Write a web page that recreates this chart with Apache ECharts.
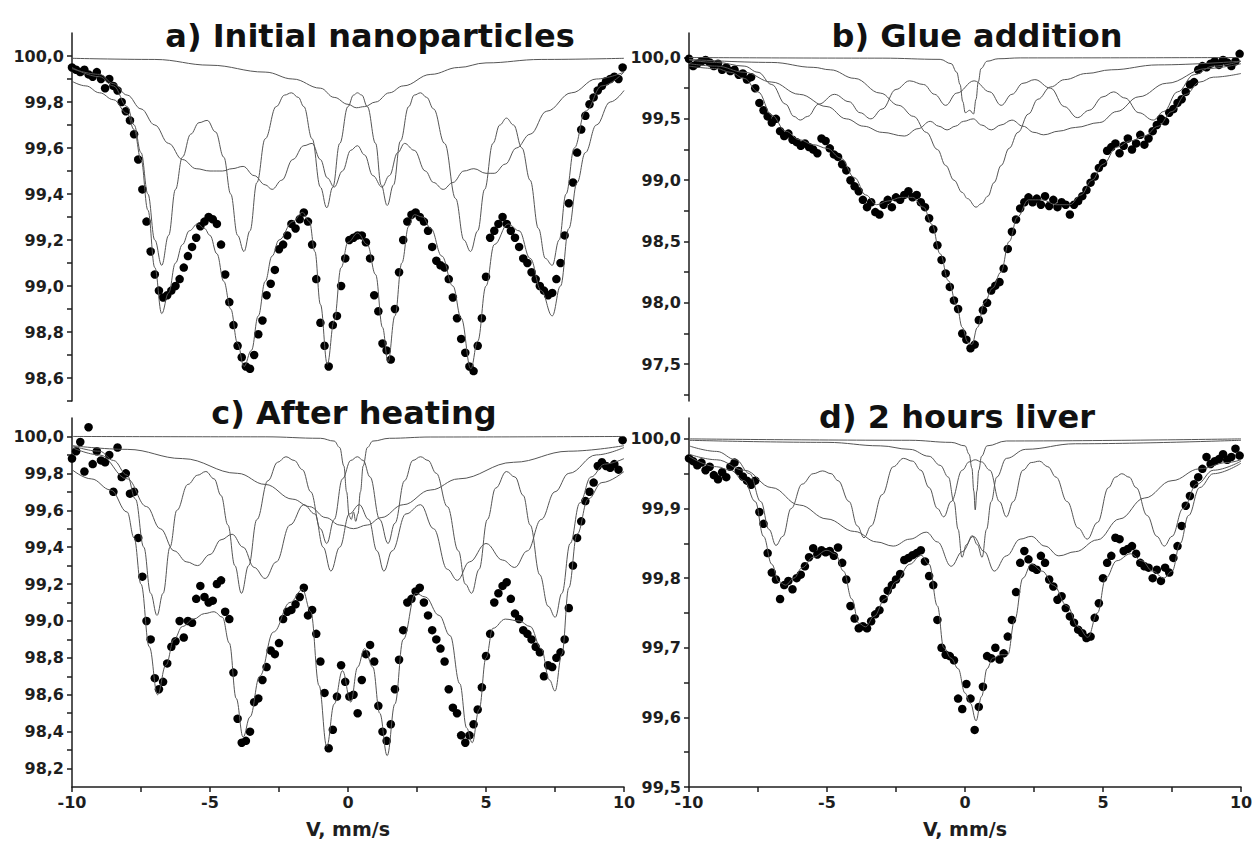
<!DOCTYPE html>
<html>
<head>
<meta charset="utf-8">
<title>Mossbauer spectra</title>
<script src="https://cdn.jsdelivr.net/npm/echarts@6/dist/echarts.min.js"></script>
<style>
html, body { margin: 0; padding: 0; background: #fff; }
#main { width: 1254px; height: 847px; }
</style>
</head>
<body>
<div id="main"></div>
<script>
// velocity of the first channel and channel step, mm/s
var V_START = -10, V_STEP = 0.15;

// measured points, one value per channel
var dotsA = [
    99.95, 99.94, 99.93, 99.94, 99.92, 99.91, 99.93, 99.90, 99.86, 99.90,
    99.87, 99.85, 99.80, 99.76, 99.72, 99.66, 99.55, 99.42, 99.28, 99.15,
    99.05, 98.98, 98.95, 98.96, 98.98, 99.00, 99.03, 99.08, 99.13, 99.17,
    99.21, 99.26, 99.28, 99.30, 99.29, 99.27, 99.18, 99.05, 98.93, 98.83,
    98.74, 98.69, 98.65, 98.64, 98.70, 98.79, 98.85, 98.96, 99.01, 99.07,
    99.16, 99.18, 99.22, 99.27, 99.25, 99.29, 99.32, 99.28, 99.18, 99.03,
    98.84, 98.74, 98.65, 98.83, 98.87, 99.00, 99.12, 99.20, 99.21, 99.22,
    99.22, 99.19, 99.12, 98.96, 98.89, 98.75, 98.72, 98.68, 98.90, 99.06,
    99.20, 99.28, 99.31, 99.32, 99.30, 99.28, 99.24, 99.17, 99.11, 99.09,
    99.08, 99.03, 98.95, 98.86, 98.77, 98.71, 98.65, 98.63, 98.74, 98.86,
    99.04, 99.21, 99.24, 99.27, 99.30, 99.27, 99.24, 99.21, 99.17, 99.12,
    99.10, 99.06, 99.03, 99.00, 98.98, 98.96, 98.97, 99.03, 99.10, 99.22,
    99.36, 99.45, 99.58, 99.68, 99.74, 99.79, 99.82, 99.85, 99.87, 99.89,
    99.90, 99.91, 99.90, 99.95
];
var dotsB = [
    99.99, 99.93, 99.95, 99.97, 99.98, 99.96, 99.93, 99.95, 99.90, 99.92,
    99.89, 99.90, 99.86, 99.87, 99.82, 99.84, 99.75, 99.63, 99.57, 99.52,
    99.47, 99.50, 99.40, 99.36, 99.38, 99.33, 99.31, 99.28, 99.30, 99.27,
    99.25, 99.22, 99.34, 99.32, 99.26, 99.21, 99.19, 99.13, 99.08, 99.00,
    98.95, 98.91, 98.84, 98.78, 98.82, 98.74, 98.72, 98.80, 98.84, 98.78,
    98.86, 98.84, 98.88, 98.91, 98.86, 98.88, 98.82, 98.78, 98.69, 98.60,
    98.47, 98.35, 98.24, 98.13, 98.02, 97.95, 97.75, 97.70, 97.63, 97.66,
    97.86, 97.94, 98.00, 98.10, 98.14, 98.17, 98.28, 98.44, 98.58, 98.68,
    98.77, 98.82, 98.86, 98.82, 98.85, 98.80, 98.87, 98.79, 98.84, 98.78,
    98.82, 98.80, 98.72, 98.80, 98.83, 98.87, 98.92, 98.98, 99.03, 99.10,
    99.14, 99.24, 99.27, 99.30, 99.22, 99.28, 99.34, 99.25, 99.30, 99.37,
    99.29, 99.34, 99.40, 99.45, 99.50, 99.48, 99.55, 99.58, 99.63, 99.66,
    99.72, 99.78, 99.80, 99.90, 99.93, 99.92, 99.95, 99.97, 99.94, 99.98,
    99.96, 99.93, 99.97, 100.03
];
var dotsC = [
    99.88, 99.92, 99.97, 99.81, 100.05, 99.85, 99.92, 99.87, 99.86, 99.90,
    99.70, 99.94, 99.78, 99.80, 99.69, 99.70, 99.45, 99.24, 99.00, 98.90,
    98.69, 98.63, 98.67, 98.77, 98.86, 98.89, 99.00, 98.91, 99.00, 98.99,
    99.12, 99.19, 99.13, 99.10, 99.11, 99.20, 99.22, 99.05, 99.01, 98.72,
    98.47, 98.34, 98.35, 98.40, 98.56, 98.58, 98.68, 98.75, 98.84, 98.82,
    98.88, 99.01, 99.05, 99.06, 99.09, 99.13, 99.18, 99.03, 99.06, 98.93,
    98.78, 98.61, 98.31, 98.41, 98.59, 98.76, 98.67, 98.59, 98.60, 98.50,
    98.68, 98.82, 98.87, 98.78, 98.54, 98.40, 98.35, 98.44, 98.63, 98.79,
    98.95, 99.10, 99.12, 99.16, 99.18, 99.10, 99.03, 98.95, 98.90, 98.85,
    98.78, 98.63, 98.53, 98.50, 98.38, 98.34, 98.38, 98.44, 98.52, 98.64,
    98.81, 98.93, 99.10, 99.15, 99.19, 99.21, 99.12, 99.04, 99.01, 98.95,
    98.93, 98.90, 98.86, 98.83, 98.70, 98.76, 98.75, 98.80, 98.83, 98.90,
    99.07, 99.30, 99.45, 99.54, 99.65, 99.70, 99.75, 99.84, 99.86, 99.84,
    99.83, 99.85, 99.82, 99.98
];
var dotsD = [
    99.972, 99.968, 99.962, 99.966, 99.955, 99.960, 99.948, 99.942, 99.952, 99.945,
    99.960, 99.966, 99.954, 99.946, 99.940, 99.934, 99.940, 99.895, 99.878, 99.836,
    99.808, 99.798, 99.770, 99.790, 99.796, 99.784, 99.800, 99.805, 99.817, 99.830,
    99.843, 99.834, 99.840, 99.837, 99.839, 99.832, 99.844, 99.822, 99.798, 99.760,
    99.742, 99.728, 99.731, 99.728, 99.738, 99.748, 99.754, 99.770, 99.782, 99.790,
    99.798, 99.806, 99.826, 99.829, 99.833, 99.836, 99.840, 99.824, 99.803, 99.790,
    99.740, 99.700, 99.690, 99.688, 99.682, 99.627, 99.612, 99.648, 99.627, 99.582,
    99.615, 99.644, 99.688, 99.685, 99.700, 99.683, 99.692, 99.716, 99.740, 99.780,
    99.822, 99.839, 99.827, 99.815, 99.812, 99.832, 99.822, 99.798, 99.788, 99.769,
    99.774, 99.757, 99.745, 99.736, 99.726, 99.721, 99.714, 99.716, 99.743, 99.764,
    99.800, 99.822, 99.832, 99.858, 99.856, 99.839, 99.842, 99.846, 99.835, 99.822,
    99.817, 99.815, 99.800, 99.812, 99.796, 99.815, 99.808, 99.829, 99.846, 99.875,
    99.904, 99.918, 99.935, 99.945, 99.957, 99.974, 99.964, 99.968, 99.971, 99.978,
    99.970, 99.974, 99.986, 99.976
];

// fitted curves, [velocity, transmission]
var totalA = [[-10,99.89],[-9.5,99.87],[-9,99.84],[-8.5,99.81],[-8,99.75],[-7.75,99.68],[-7.5,99.55],[-7.25,99.33],[-7,99.08],[-6.75,98.88],[-6.5,98.97],[-6.25,99.1],[-6,99.18],[-5.75,99.24],[-5.45,99.27],[-5.2,99.25],[-5,99.22],[-4.75,99.14],[-4.5,99.02],[-4.25,98.9],[-4,98.75],[-3.77,98.65],[-3.5,98.72],[-3.25,98.87],[-3,99.02],[-2.75,99.13],[-2.5,99.2],[-2,99.28],[-1.65,99.32],[-1.4,99.28],[-1.2,99.15],[-1,98.92],[-0.75,98.66],[-0.5,98.85],[-0.25,99.08],[0,99.19],[0.35,99.23],[0.7,99.18],[1,99.05],[1.25,98.82],[1.45,98.67],[1.7,98.87],[1.95,99.1],[2.2,99.26],[2.4,99.31],[2.7,99.3],[3,99.25],[3.4,99.13],[3.8,99],[4.1,98.86],[4.45,98.64],[4.7,98.76],[5,99],[5.3,99.18],[5.8,99.27],[6.2,99.24],[6.6,99.12],[7,98.98],[7.4,98.87],[7.7,99],[8,99.25],[8.3,99.45],[8.6,99.58],[9,99.7],[9.5,99.8],[10,99.85]];
var sextet1A = [[-10,99.95],[-9,99.91],[-8.5,99.87],[-8,99.78],[-7.75,99.7],[-7.5,99.58],[-7.25,99.4],[-7,99.2],[-6.75,99.09],[-6.5,99.22],[-6.25,99.42],[-6,99.56],[-5.7,99.66],[-5.4,99.71],[-5.1,99.72],[-4.8,99.67],[-4.5,99.56],[-4.25,99.4],[-4,99.22],[-3.77,99.15],[-3.55,99.24],[-3.3,99.45],[-3,99.64],[-2.6,99.78],[-2.3,99.83],[-2.05,99.84],[-1.8,99.82],[-1.6,99.78],[-1.3,99.64],[-1,99.43],[-0.77,99.34],[-0.55,99.43],[-0.3,99.62],[0,99.78],[0.2,99.83],[0.34,99.84],[0.5,99.83],[0.7,99.78],[1,99.62],[1.2,99.44],[1.42,99.35],[1.65,99.44],[1.9,99.63],[2.2,99.78],[2.4,99.83],[2.63,99.84],[2.85,99.82],[3.1,99.77],[3.5,99.62],[3.9,99.38],[4.2,99.2],[4.44,99.15],[4.7,99.24],[4.95,99.42],[5.25,99.62],[5.5,99.7],[5.74,99.73],[6,99.7],[6.3,99.6],[6.6,99.46],[6.9,99.25],[7.15,99.12],[7.4,99.09],[7.65,99.2],[7.9,99.4],[8.2,99.6],[8.6,99.76],[9.2,99.87],[10,99.93]];
var sextet2A = [[-10,99.945],[-9,99.92],[-8.5,99.88],[-8,99.83],[-7.5,99.77],[-7,99.7],[-6.5,99.62],[-6,99.55],[-5.5,99.51],[-5,99.5],[-4.55,99.5],[-4.2,99.51],[-3.8,99.52],[-3.4,99.48],[-3,99.44],[-2.75,99.42],[-2.4,99.46],[-2,99.55],[-1.6,99.61],[-1.3,99.62],[-1,99.55],[-0.75,99.47],[-0.5,99.43],[-0.2,99.5],[0.1,99.59],[0.34,99.61],[0.6,99.57],[0.9,99.48],[1.23,99.43],[1.5,99.48],[1.8,99.58],[2.05,99.62],[2.4,99.59],[2.8,99.5],[3.1,99.45],[3.45,99.42],[3.8,99.45],[4.2,99.5],[4.56,99.51],[5,99.49],[5.3,99.49],[5.7,99.53],[6.1,99.6],[6.6,99.66],[7.2,99.76],[8.1,99.84],[9,99.9],[10,99.93]];
var broadA = [[-10,99.99],[-7,99.985],[-5,99.96],[-3,99.93],[-2,99.9],[-1,99.86],[-0.5,99.82],[0,99.79],[0.3,99.775],[0.6,99.78],[1,99.8],[1.5,99.84],[2,99.87],[3,99.92],[4,99.95],[5,99.97],[7,99.985],[10,99.99]];

var totalB = [[-10,99.93],[-9,99.91],[-8.5,99.88],[-8,99.83],[-7.5,99.72],[-7,99.53],[-6.5,99.4],[-6,99.33],[-5.5,99.29],[-5,99.26],[-4.5,99.18],[-4,99.02],[-3.6,98.88],[-3.2,98.8],[-2.8,98.83],[-2.3,98.86],[-1.9,98.86],[-1.5,98.78],[-1.2,98.64],[-0.9,98.4],[-0.6,98.18],[-0.3,97.98],[-0.1,97.8],[0.1,97.68],[0.25,97.66],[0.45,97.8],[0.7,98],[1,98.12],[1.3,98.25],[1.6,98.5],[1.9,98.7],[2.3,98.84],[2.8,98.84],[3.3,98.8],[3.8,98.8],[4.2,98.88],[4.6,99],[5,99.13],[5.5,99.27],[6,99.32],[6.5,99.36],[7,99.44],[7.5,99.56],[8,99.7],[8.5,99.8],[9,99.84],[10,99.87]];
var sextet1B = [[-10,99.98],[-9,99.96],[-8,99.93],[-7.5,99.88],[-7,99.78],[-6.5,99.62],[-6.2,99.52],[-5.97,99.49],[-5.7,99.52],[-5.3,99.62],[-4.73,99.7],[-4.2,99.64],[-3.8,99.55],[-3.41,99.5],[-3,99.58],[-2.5,99.74],[-2.01,99.81],[-1.5,99.78],[-1.1,99.7],[-0.7,99.61],[-0.3,99.71],[0.33,99.81],[0.9,99.72],[1.31,99.61],[1.7,99.7],[2.1,99.79],[2.53,99.82],[3.1,99.75],[3.6,99.6],[4.07,99.51],[4.5,99.57],[5,99.68],[5.38,99.72],[5.8,99.67],[6.3,99.55],[6.82,99.49],[7.2,99.56],[7.7,99.72],[8.3,99.86],[9,99.93],[10,99.97]];
var sextet2B = [[-10,99.95],[-9,99.93],[-8,99.88],[-7,99.8],[-6,99.7],[-5,99.6],[-4.3,99.5],[-3.67,99.44],[-3,99.39],[-2.2,99.36],[-1.7,99.42],[-1.26,99.48],[-0.95,99.44],[-0.65,99.41],[-0.35,99.44],[-0.05,99.48],[0.3,99.5],[0.6,99.45],[0.95,99.41],[1.3,99.45],[1.7,99.49],[2.1,99.44],[2.5,99.39],[2.85,99.37],[3.4,99.4],[4,99.43],[4.88,99.47],[5.5,99.56],[6.3,99.68],[7.3,99.79],[8.75,99.91],[10,99.95]];
var doubletB = [[-10,99.985],[-7,99.96],[-5.5,99.92],[-4.88,99.9],[-4,99.83],[-3.07,99.71],[-2.4,99.61],[-1.86,99.52],[-1.4,99.39],[-1,99.25],[-0.7,99.12],[-0.4,99],[-0.1,98.9],[0.09,98.85],[0.4,98.78],[0.6,98.81],[0.83,98.87],[1.05,98.98],[1.31,99.12],[1.6,99.26],[1.92,99.39],[2.3,99.54],[2.64,99.66],[3.1,99.76],[3.61,99.82],[4.4,99.87],[5.3,99.9],[7,99.94],[10,99.97]];
var narrowB = [[-10,100],[-3,99.995],[-0.9,99.985],[-0.5,99.95],[-0.3,99.88],[-0.18,99.78],[-0.08,99.64],[0.01,99.55],[0.17,99.57],[0.31,99.54],[0.4,99.66],[0.48,99.8],[0.58,99.91],[0.8,99.97],[1.2,99.99],[2,99.997],[10,100]];

var totalC = [[-10,99.82],[-9.3,99.77],[-8.6,99.71],[-8,99.59],[-7.75,99.45],[-7.5,99.2],[-7.2,98.86],[-6.9,98.6],[-6.6,98.76],[-6.3,98.9],[-6,98.97],[-5.6,99.01],[-5.2,99.04],[-4.85,99.05],[-4.55,99.02],[-4.3,98.88],[-4.05,98.58],[-3.8,98.37],[-3.55,98.48],[-3.2,98.7],[-2.7,98.94],[-2.1,99.1],[-1.65,99.17],[-1.35,99.05],[-1.05,98.65],[-0.77,98.32],[-0.5,98.55],[-0.2,98.73],[0.1,98.56],[0.35,98.75],[0.6,98.85],[0.9,98.75],[1.15,98.5],[1.42,98.27],[1.7,98.55],[2,98.9],[2.45,99.15],[2.8,99.13],[3.3,99.03],[3.7,98.92],[4.05,98.66],[4.3,98.42],[4.5,98.34],[4.75,98.52],[5,98.8],[5.25,98.96],[5.7,99.01],[6.2,99],[6.6,98.97],[7,98.85],[7.3,98.68],[7.5,98.62],[7.75,98.82],[8,99.18],[8.3,99.47],[8.7,99.66],[9.2,99.75],[10,99.81]];
var sextet1C = [[-10,99.95],[-9,99.92],[-8.5,99.87],[-8,99.79],[-7.7,99.66],[-7.4,99.4],[-7.15,99.15],[-6.92,99.03],[-6.7,99.15],[-6.45,99.4],[-6.2,99.6],[-5.8,99.74],[-5.45,99.79],[-5.15,99.81],[-4.85,99.77],[-4.6,99.68],[-4.35,99.52],[-4.1,99.3],[-3.86,99.15],[-3.6,99.3],[-3.3,99.55],[-2.9,99.76],[-2.55,99.86],[-2.25,99.89],[-1.95,99.87],[-1.65,99.82],[-1.35,99.7],[-1,99.5],[-0.77,99.42],[-0.5,99.55],[-0.2,99.77],[0.1,99.87],[0.34,99.89],[0.55,99.87],[0.8,99.78],[1.15,99.55],[1.45,99.42],[1.7,99.53],[2.05,99.76],[2.35,99.87],[2.63,99.89],[2.9,99.87],[3.2,99.8],[3.6,99.62],[4,99.38],[4.25,99.2],[4.48,99.15],[4.75,99.28],[5.05,99.55],[5.35,99.72],[5.74,99.81],[6.05,99.78],[6.35,99.68],[6.6,99.52],[6.95,99.25],[7.25,99.08],[7.51,99.02],[7.75,99.15],[8.05,99.42],[8.4,99.64],[8.8,99.78],[9.3,99.85],[10,99.88]];
var sextet2C = [[-10,99.94],[-9,99.9],[-8,99.77],[-7.3,99.62],[-6.8,99.5],[-6.3,99.38],[-5.84,99.32],[-5.45,99.3],[-5,99.36],[-4.6,99.44],[-4.2,99.47],[-3.8,99.4],[-3.4,99.29],[-3,99.23],[-2.6,99.32],[-2.1,99.52],[-1.6,99.63],[-1.2,99.58],[-0.9,99.4],[-0.62,99.27],[-0.3,99.4],[0.05,99.58],[0.41,99.63],[0.75,99.55],[1.05,99.38],[1.3,99.27],[1.6,99.38],[2.1,99.58],[2.63,99.63],[3.1,99.5],[3.6,99.28],[3.96,99.22],[4.4,99.32],[5,99.42],[5.6,99.33],[6.04,99.29],[6.5,99.38],[7,99.55],[7.5,99.7],[8,99.8],[9,99.9],[10,99.94]];
var broadC = [[-10,99.95],[-8,99.93],[-6,99.88],[-4,99.8],[-3,99.74],[-2,99.66],[-1.4,99.62],[-0.8,99.56],[-0.3,99.52],[0.2,99.5],[0.7,99.52],[1.2,99.56],[2,99.63],[3,99.71],[4,99.77],[6,99.86],[8,99.92],[10,99.95]];
var narrowC = [[-10,100],[-3,99.998],[-1,99.99],[-0.5,99.975],[-0.3,99.94],[-0.15,99.84],[-0.05,99.7],[0.04,99.57],[0.12,99.55],[0.2,99.59],[0.28,99.54],[0.36,99.58],[0.45,99.7],[0.55,99.84],[0.7,99.94],[0.9,99.975],[1.5,99.99],[3,99.997],[10,100]];

var totalD = [[-10,99.975],[-9,99.96],[-8.5,99.955],[-8,99.94],[-7.6,99.91],[-7.3,99.86],[-7,99.82],[-6.75,99.795],[-6.5,99.79],[-6.2,99.8],[-5.9,99.815],[-5.5,99.83],[-5,99.84],[-4.7,99.835],[-4.4,99.81],[-4.1,99.77],[-3.85,99.735],[-3.6,99.73],[-3.3,99.745],[-2.9,99.77],[-2.5,99.795],[-2,99.82],[-1.6,99.833],[-1.3,99.82],[-1,99.76],[-0.77,99.7],[-0.5,99.685],[-0.25,99.67],[0,99.635],[0.2,99.62],[0.4,99.595],[0.6,99.63],[0.8,99.67],[1,99.685],[1.3,99.69],[1.55,99.69],[1.8,99.74],[2.1,99.8],[2.4,99.82],[2.8,99.81],[3.2,99.79],[3.7,99.76],[4.1,99.73],[4.45,99.715],[4.8,99.75],[5.1,99.8],[5.5,99.825],[6,99.835],[6.4,99.825],[6.8,99.81],[7.2,99.8],[7.5,99.81],[7.8,99.85],[8.1,99.89],[8.5,99.93],[9,99.95],[10,99.965]];
var sextet1D = [[-10,99.99],[-9,99.982],[-8.3,99.97],[-7.8,99.95],[-7.4,99.91],[-7.1,99.87],[-6.85,99.847],[-6.6,99.86],[-6.3,99.9],[-5.9,99.935],[-5.5,99.95],[-5.16,99.954],[-4.85,99.95],[-4.6,99.94],[-4.2,99.91],[-3.9,99.875],[-3.66,99.858],[-3.4,99.875],[-3,99.92],[-2.6,99.96],[-2.23,99.972],[-1.9,99.968],[-1.6,99.955],[-1.3,99.93],[-1,99.9],[-0.77,99.888],[-0.5,99.91],[-0.1,99.955],[0.15,99.967],[0.37,99.97],[0.6,99.967],[0.9,99.955],[1.25,99.91],[1.5,99.888],[1.75,99.91],[2.1,99.955],[2.4,99.966],[2.7,99.968],[3,99.96],[3.3,99.945],[3.7,99.91],[4.1,99.872],[4.43,99.856],[4.8,99.88],[5.2,99.93],[5.45,99.945],[5.68,99.95],[5.95,99.945],[6.2,99.93],[6.6,99.89],[6.95,99.86],[7.22,99.846],[7.5,99.86],[7.9,99.9],[8.4,99.935],[9,99.955],[10,99.968]];
var broadD = [[-10,99.978],[-9,99.97],[-8,99.955],[-7,99.93],[-6,99.905],[-5,99.885],[-4,99.867],[-3.2,99.852],[-2.6,99.846],[-2,99.856],[-1.4,99.866],[-1,99.852],[-0.5,99.817],[-0.1,99.838],[0.3,99.86],[0.7,99.838],[1.06,99.81],[1.5,99.832],[2,99.856],[2.4,99.86],[2.9,99.846],[3.4,99.832],[4,99.838],[4.8,99.855],[5.6,99.885],[6.5,99.915],[7.5,99.94],[8.5,99.957],[9.5,99.966],[10,99.97]];
var doubletD = [[-10,99.998],[-5,99.995],[-3.07,99.99],[-2,99.985],[-1.3,99.975],[-0.9,99.962],[-0.6,99.945],[-0.4,99.91],[-0.25,99.87],[-0.11,99.83],[0.05,99.848],[0.26,99.861],[0.45,99.848],[0.62,99.83],[0.78,99.87],[0.95,99.91],[1.15,99.945],[1.5,99.972],[2.2,99.985],[4,99.993],[10,99.998]];
var narrowD = [[-10,100],[-2,99.998],[-0.5,99.995],[0,99.99],[0.15,99.978],[0.25,99.958],[0.32,99.925],[0.37,99.898],[0.43,99.925],[0.5,99.955],[0.6,99.975],[0.8,99.99],[1.5,99.997],[10,100]];

// axis ranges, tick labels and tick marks
var rangeA = [98.5, 100.1], labelsA = [98.6, 98.8, 99.0, 99.2, 99.4, 99.6, 99.8, 100.0];
var ticksA = [98.5, 98.6, 98.7, 98.8, 98.9, 99.0, 99.1, 99.2, 99.3, 99.4, 99.5, 99.6, 99.7, 99.8, 99.9, 100.0];
var rangeB = [97.2, 100.2], labelsB = [97.5, 98.0, 98.5, 99.0, 99.5, 100.0];
var ticksB = [97.25, 97.5, 97.75, 98.0, 98.25, 98.5, 98.75, 99.0, 99.25, 99.5, 99.75, 100.0];
var rangeC = [98.1, 100.1], labelsC = [98.2, 98.4, 98.6, 98.8, 99.0, 99.2, 99.4, 99.6, 99.8, 100.0];
var ticksC = [98.2, 98.3, 98.4, 98.5, 98.6, 98.7, 98.8, 98.9, 99.0, 99.1, 99.2, 99.3, 99.4, 99.5, 99.6, 99.7, 99.8, 99.9, 100.0];
var rangeD = [99.5, 100.03], labelsD = [99.5, 99.6, 99.7, 99.8, 99.9, 100.0];
var ticksD = [99.5, 99.55, 99.6, 99.65, 99.7, 99.75, 99.8, 99.85, 99.9, 99.95, 100.0];

var titles = ['a) Initial nanoparticles', 'b) Glue addition', 'c) After heating', 'd) 2 hours liver'];

var INK = '#1e1e1e', FIT = '#555555', FONT = 'DejaVu Sans';

function comma(v) {
    return v.toFixed(1).replace('.', ',');
}

function yAxisFor(idx, range, labels, ticks) {
    return {
        type: 'value', gridIndex: idx, min: range[0], max: range[1],
        axisLine: {show: true, onZero: false, lineStyle: {color: INK, width: 1.5}},
        axisTick: {show: true, inside: false, length: 5, customValues: ticks, lineStyle: {color: INK, width: 1.5}},
        axisLabel: {customValues: labels, formatter: comma, margin: 8, color: INK,
            fontFamily: FONT, fontWeight: 'bold', fontSize: 16},
        splitLine: {show: false}
    };
}

function xAxisFor(idx, visible) {
    return {
        type: 'value', gridIndex: idx, min: -10, max: 10, interval: 5, show: visible,
        axisLine: {onZero: false, lineStyle: {color: INK, width: 1.5}},
        axisTick: {length: 5, lineStyle: {color: INK, width: 1.5}},
        minorTick: {show: true, splitNumber: 2, length: 5, lineStyle: {color: INK, width: 1.5}},
        axisLabel: {margin: 7, color: INK, fontFamily: FONT, fontWeight: 'bold', fontSize: 16},
        splitLine: {show: false},
        name: 'V, mm/s', nameLocation: 'middle', nameGap: 32,
        nameTextStyle: {color: INK, fontFamily: FONT, fontWeight: 'bold', fontSize: 19}
    };
}

function dotSeries(idx, vals) {
    var pts = [];
    for (var i = 0; i < vals.length; i++) {
        pts.push([V_START + i * V_STEP, vals[i]]);
    }
    return {type: 'scatter', xAxisIndex: idx, yAxisIndex: idx, data: pts,
        symbol: 'circle', symbolSize: 8.5, itemStyle: {color: '#000', opacity: 1}, z: 2, silent: true};
}

function fitSeries(idx, pts) {
    return {type: 'line', xAxisIndex: idx, yAxisIndex: idx, data: pts,
        showSymbol: false, smooth: 0.4, smoothMonotone: 'x',
        lineStyle: {color: FIT, width: 1}, z: 3, silent: true};
}

function titleText(text, x, y) {
    return {type: 'text', x: x, y: y, silent: true,
        style: {text: text, align: 'center', verticalAlign: 'middle', fill: '#111',
            font: 'bold 32px "DejaVu Sans"'}};
}

var grids = [
    {left: 72, top: 33, width: 552, height: 368},
    {left: 689, top: 33, width: 552, height: 368},
    {left: 72, top: 418, width: 552, height: 369},
    {left: 689, top: 418, width: 552, height: 369}
];
for (var g = 0; g < grids.length; g++) {
    grids[g].containLabel = false;
    grids[g].outerBoundsMode = 'none';
}

var series = [
    dotSeries(0, dotsA), fitSeries(0, broadA), fitSeries(0, sextet2A), fitSeries(0, sextet1A), fitSeries(0, totalA),
    dotSeries(1, dotsB), fitSeries(1, narrowB), fitSeries(1, sextet1B), fitSeries(1, sextet2B), fitSeries(1, doubletB), fitSeries(1, totalB),
    dotSeries(2, dotsC), fitSeries(2, narrowC), fitSeries(2, broadC), fitSeries(2, sextet1C), fitSeries(2, sextet2C), fitSeries(2, totalC),
    dotSeries(3, dotsD), fitSeries(3, narrowD), fitSeries(3, doubletD), fitSeries(3, sextet1D), fitSeries(3, broadD), fitSeries(3, totalD)
];

var chart = echarts.init(document.getElementById('main'), null, {renderer: 'svg'});
chart.setOption({
    animation: false,
    backgroundColor: '#fff',
    grid: grids,
    xAxis: [xAxisFor(0, false), xAxisFor(1, false), xAxisFor(2, true), xAxisFor(3, true)],
    yAxis: [
        yAxisFor(0, rangeA, labelsA, ticksA),
        yAxisFor(1, rangeB, labelsB, ticksB),
        yAxisFor(2, rangeC, labelsC, ticksC),
        yAxisFor(3, rangeD, labelsD, ticksD)
    ],
    graphic: [
        titleText(titles[0], 370, 36),
        titleText(titles[1], 977, 36),
        titleText(titles[2], 354, 413),
        titleText(titles[3], 957, 417)
    ],
    series: series
});
</script>
</body>
</html>
